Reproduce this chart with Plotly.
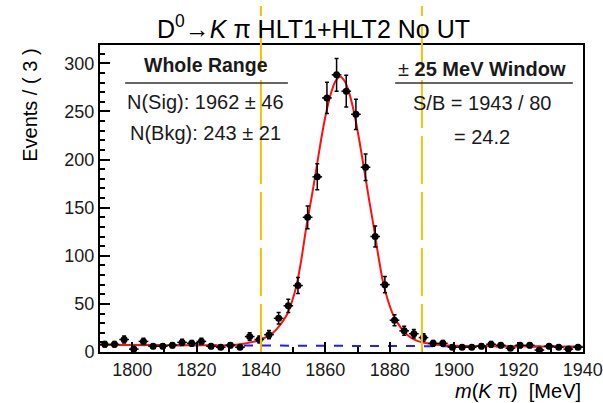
import numpy as np
import plotly.graph_objects as go

# ---- data ----
bin_centers = [1791.5 + 3 * i for i in range(50)]
counts = [8, 8, 13, 3, 11, 6, 6, 7, 10, 9,
          11, 6, 5, 7, 5, 16, 13, 18, 35, 48,
          69, 140, 182, 264, 288, 271, 247, 192, 120, 70,
          33, 22, 19, 15, 9, 9, 5, 5, 5, 6,
          8, 7, 4, 7, 7, 2, 6, 5, 3, 5]

fit_x = [1790, 1800, 1810, 1820, 1830, 1834.6, 1837.6, 1839.1, 1840.6, 1842.1,
         1843.6, 1845.1, 1846.6, 1848.1, 1849.6, 1851.1, 1852.6, 1854.1, 1855.6,
         1857.1, 1858.6, 1860.1, 1861.6, 1863.1, 1864.6, 1866.1, 1867.6, 1869.1,
         1870.6, 1872.1, 1873.6, 1875.1, 1876.6, 1878.1, 1879.6, 1881.1, 1882.6,
         1884.1, 1885.6, 1887.1, 1888.6, 1890.1, 1891.6, 1894.6, 1900, 1910,
         1920, 1930, 1940]
fit_y = [7.3, 7.2, 7.1, 7.0, 7.0, 8.5, 10.5, 12, 14, 16,
         19.5, 24.5, 31, 39, 52, 70, 97, 130, 158,
         188, 219, 246, 267, 281, 286, 281, 267, 246,
         219, 189, 158, 129, 97, 70, 52, 38.5, 29.5,
         22.5, 17.5, 14, 11.5, 10, 9, 7.5, 6.4, 6.1,
         5.9, 5.7, 5.5]

bkg_x = [1790, 1940]
bkg_y = [7.3, 5.5]

window_edges = [1840, 1890]

x_ticks = [1800, 1820, 1840, 1860, 1880, 1900, 1920, 1940]
y_ticks = [0, 50, 100, 150, 200, 250, 300]

FONT = "Liberation Sans"

fig = go.Figure()

fig.add_trace(go.Scatter(
    x=bkg_x, y=bkg_y, mode="lines",
    line=dict(color="#1f1fff", width=2, dash="dash"),
    hoverinfo="skip", showlegend=False))

fig.add_trace(go.Scatter(
    x=fit_x, y=fit_y, mode="lines",
    line=dict(color="#ff1010", width=2, shape="spline", smoothing=0.8),
    hoverinfo="skip", showlegend=False))

fig.add_trace(go.Scatter(
    x=bin_centers, y=counts, mode="markers",
    marker=dict(color="black", size=7, symbol="circle"),
    error_x=dict(type="constant", value=1.5, color="black", thickness=1.5, width=0),
    error_y=dict(type="data", array=np.sqrt(np.array(counts, dtype=float)),
                 color="black", thickness=1.5, width=2),
    showlegend=False))

# window lines (extend above the frame, like the reference)
for xe in window_edges:
    fig.add_shape(type="line", xref="x", yref="paper",
                  x0=xe, x1=xe, y0=0, y1=1.127,
                  line=dict(color="#f5c400", width=2, dash="48px,8px"))

# separator lines in the text boxes
fig.add_shape(type="line", xref="paper", yref="paper",
              x0=0.052, x1=0.389, y0=0.876, y1=0.876,
              line=dict(color="#333333", width=1.5))
fig.add_shape(type="line", xref="paper", yref="paper",
              x0=0.611, x1=0.979, y0=0.876, y1=0.876,
              line=dict(color="#333333", width=1.5))

def ann(text, x, y, size):
    fig.add_annotation(text=text, x=x, y=y, xref="paper", yref="paper",
                       showarrow=False,
                       font=dict(family=FONT, size=size, color="#1a1a1a"),
                       xanchor="center", yanchor="middle")

fig.add_annotation(text="D<sup>0</sup>→<i>K</i> π HLT1+HLT2 No UT", x=0.441, y=1.059,
                   xref="paper", yref="paper", showarrow=False,
                   font=dict(family=FONT, size=25, color="black"),
                   xanchor="center", yanchor="middle")

ann("<b>Whole Range</b>", 0.219, 0.935, 19.5)
ann("N(Sig): 1962 ± 46", 0.219, 0.814, 20)
ann("N(Bkg): 243 ± 21", 0.219, 0.713, 20)
ann("± <b>25 MeV Window</b>", 0.791, 0.922, 20)
ann("S/B = 1943 / 80", 0.791, 0.811, 20)
ann("= 24.2", 0.791, 0.700, 20)

# axis titles
fig.add_annotation(text="Events / ( 3 )", x=-0.145, y=0.805, xref="paper", yref="paper",
                   showarrow=False, textangle=-90,
                   font=dict(family=FONT, size=20, color="black"),
                   xanchor="center", yanchor="middle")
fig.add_annotation(text="<i>m</i>(<i>K</i> π)  [MeV]", x=1.0, y=-0.127,
                   xref="paper", yref="paper", showarrow=False,
                   font=dict(family=FONT, size=20, color="black"),
                   xanchor="right", yanchor="middle")

fig.update_xaxes(range=[1790, 1940.05], tickvals=x_ticks, ticktext=[str(v) for v in x_ticks],
                 automargin=False,
                 ticks="inside", ticklen=10, tickwidth=1.5, tickcolor="black",
                 minor=dict(ticks="inside", ticklen=5, dtick=10, tick0=1790,
                            tickcolor="black", tickwidth=1.5),
                 showline=True, linecolor="black", linewidth=2, mirror=True,
                 showgrid=False, zeroline=False,
                 tickfont=dict(family=FONT, size=18, color="#1a1a1a"))
fig.update_yaxes(range=[0, 319], tickvals=y_ticks, ticktext=[str(v) for v in y_ticks],
                 automargin=False,
                 ticks="inside", ticklen=10, tickwidth=1.5, tickcolor="black",
                 minor=dict(ticks="inside", ticklen=5, dtick=10, tick0=0,
                            tickcolor="black", tickwidth=1.5),
                 showline=True, linecolor="black", linewidth=2, mirror=True,
                 showgrid=False, zeroline=False,
                 tickfont=dict(family=FONT, size=18, color="#1a1a1a"))

fig.update_layout(width=603, height=403,
                  margin=dict(l=100, r=20, t=45, b=51, autoexpand=False),
                  plot_bgcolor="white", paper_bgcolor="white",
                  showlegend=False)

fig.write_html("out.html")
